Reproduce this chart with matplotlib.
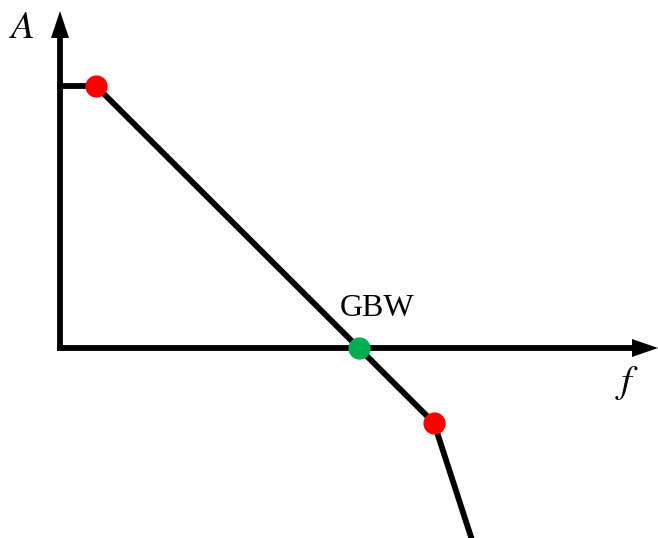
import matplotlib
matplotlib.use("Agg")
import matplotlib.pyplot as plt
from matplotlib.patches import Polygon

plt.rcParams["mathtext.fontset"] = "stix"

# Asymptotic response (pixel-like units, y grows downward)
curve_x = [60, 96, 434, 472]
curve_y = [86, 86, 423, 540]
pole_x = [96, 434]
pole_y = [86, 423]
gbw_x = [359]
gbw_y = [348]

W, H = 658, 538
fig = plt.figure(figsize=(W / 100, H / 100), dpi=100)
ax = fig.add_axes([0, 0, 1, 1])
ax.set_xlim(0, W)
ax.set_ylim(H, 0)
ax.axis("off")

lw = 4.2
# axes
ax.plot([60, 60], [350, 34], color="black", lw=lw, solid_capstyle="butt")
ax.plot([57, 636], [348, 348], color="black", lw=lw, solid_capstyle="butt")
ax.add_patch(Polygon([[60, 11], [51, 38], [69, 38]], closed=True, color="black", lw=0))
ax.add_patch(Polygon([[658, 348], [632, 339], [632, 357]], closed=True, color="black", lw=0))

# curve
ax.plot(curve_x, curve_y, color="black", lw=lw, solid_joinstyle="miter", zorder=3)
ax.plot(pole_x, pole_y, "o", color="#FF0000", markersize=16, markeredgewidth=0, zorder=4)
ax.plot(gbw_x, gbw_y, "o", color="#00B050", markersize=16, markeredgewidth=0, zorder=4)

# labels
ax.text(22, 27, "$A$", fontsize=28, ha="center", va="center")
ax.text(627, 383, "$f$", fontsize=28, ha="center", va="center")
ax.text(377, 308, "GBW", fontsize=23, family="Liberation Serif",
        ha="center", va="center")

fig.savefig("out.png", dpi=100)
